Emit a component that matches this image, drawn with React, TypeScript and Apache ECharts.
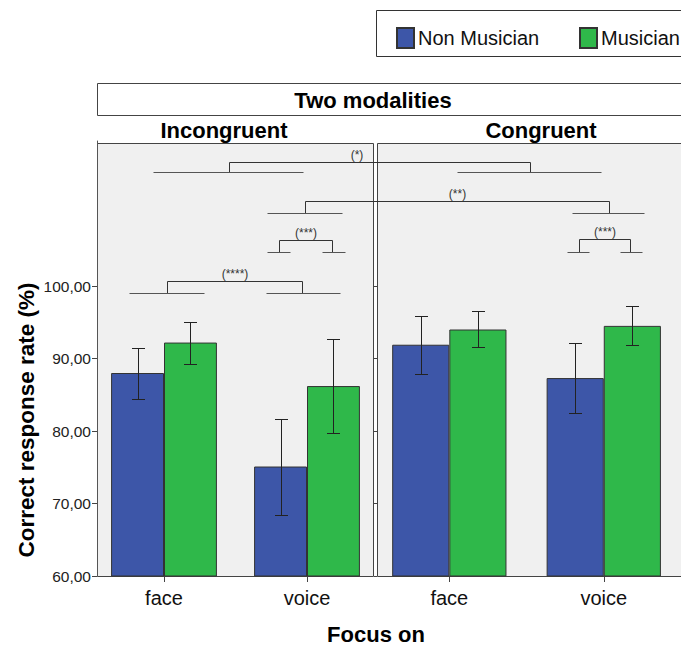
import React, { useEffect, useRef } from "react";
import * as echarts from "echarts";

// ---------- data ----------
const chartTitle = "Two modalities";
const panelTitles = ["Incongruent", "Congruent"];
const focusCategories = ["face", "voice"];
const groupNames = ["Non Musician", "Musician"];
const yTickValues = [60, 70, 80, 90, 100];
const yAxisTitle = "Correct response rate (%)";
const xAxisTitle = "Focus on";

const incongruentNonMusician = [88.0, 75.1];
const incongruentMusician = [92.2, 86.2];
const congruentNonMusician = [91.9, 87.3];
const congruentMusician = [94.0, 94.5];

// error bars [low, high]
const incongruentNonMusicianCI = [[84.4, 91.5], [68.4, 81.7]];
const incongruentMusicianCI = [[89.3, 95.0], [79.7, 92.7]];
const congruentNonMusicianCI = [[87.9, 95.9], [82.5, 92.1]];
const congruentMusicianCI = [[91.6, 96.5], [91.8, 97.2]];

// significance brackets: legs given in category units of a panel axis, levels in data units
const brackets = [
  { label: "(*)", top: 117.06, low: 115.66, labelDx: -23,
    a: { grid: 0, u: 0.457, from: -0.075, to: 0.974 }, b: { grid: 1, u: 0.52, from: 0.048, to: 0.983 } },
  { label: "(**)", top: 111.68, low: 110.07, labelDx: 0,
    a: { grid: 0, u: 0.984, from: 0.723, to: 1.243 }, b: { grid: 1, u: 1.031, from: 0.796, to: 1.259 } },
  { label: "(***)", top: 106.3, low: 104.65, labelDx: 0,
    a: { grid: 0, u: 0.806, from: 0.723, to: 0.881 }, b: { grid: 0, u: 1.177, from: 1.107, to: 1.266 } },
  { label: "(****)", top: 100.65, low: 98.99, labelDx: 0,
    a: { grid: 0, u: 0.023, from: -0.243, to: 0.282 }, b: { grid: 0, u: 0.967, from: 0.711, to: 1.231 } },
  { label: "(***)", top: 106.44, low: 104.73, labelDx: 0,
    a: { grid: 1, u: 0.838, from: 0.759, to: 0.906 }, b: { grid: 1, u: 1.17, from: 1.102, to: 1.247 } },
];

// ---------- style ----------
const FONT = "'Liberation Sans', Arial, sans-serif";
const BLUE = "#3d56a8";
const GREEN = "#2fb84a";
const GAP = 0.26;
const W = 681;
const H = 645;

export default function App() {
  const ref = useRef<HTMLDivElement>(null);

  useEffect(() => {
    if (!ref.current) return;
    const chart = echarts.init(ref.current, null, { renderer: "svg", width: W, height: H });

    const fmt = (v: number) => v.toFixed(2).replace(".", ",");

    const errSeries = (grid: number, ci: number[][], side: number) => ({
      type: "custom",
      xAxisIndex: grid,
      yAxisIndex: grid,
      z: 5,
      silent: true,
      data: ci.map((c, i) => [i, c[0], c[1]]),
      encode: { x: 0, y: [1, 2] },
      renderItem: (params: any, api: any) => {
        const cat = api.value(0);
        const lo = api.coord([cat, api.value(1)]);
        const hi = api.coord([cat, api.value(2)]);
        const band = api.size([1, 0])[0];
        const x = Math.round(lo[0] + side * band * (1 - GAP) / 4) + 0.5;
        const y1 = Math.round(hi[1]) + 0.5;
        const y2 = Math.round(lo[1]) + 0.5;
        const st = { stroke: "#222", lineWidth: 1 };
        return {
          type: "group",
          children: [
            { type: "line", shape: { x1: x, y1, x2: x, y2 }, style: st },
            { type: "line", shape: { x1: x - 6.5, y1, x2: x + 6.5, y2: y1 }, style: st },
            { type: "line", shape: { x1: x - 6.5, y1: y2, x2: x + 6.5, y2 }, style: st },
          ],
        };
      },
    });

    const barSeries = (name: string, grid: number, data: number[], color: string) => ({
      type: "bar",
      name,
      xAxisIndex: grid,
      yAxisIndex: grid,
      data,
      barGap: "0%",
      barCategoryGap: GAP * 100 + "%",
      itemStyle: { color, borderColor: "#333", borderWidth: 1 },
      z: 2,
    });

    const xAxisCommon = {
      type: "category",
      data: focusCategories,
      axisLine: { show: false },
      axisTick: { show: true, alignWithLabel: true, length: 6, inside: false, lineStyle: { color: "#444" } },
      axisLabel: { fontSize: 20, color: "#111", margin: 12, fontFamily: FONT },
    };
    const yAxisCommon = { type: "value", min: 60, max: 120, interval: 10, splitLine: { show: false } };

    const legendCommon = {
      top: 22,
      itemWidth: 17,
      itemHeight: 20,
      icon: "rect",
      selectedMode: false,
      textStyle: { fontSize: 20, color: "#111", fontFamily: FONT, padding: [0, 0, 0, -1] },
    };

    chart.setOption({
      animation: false,
      backgroundColor: "#ffffff",
      textStyle: { fontFamily: FONT },
      legend: [
        { ...legendCommon, data: [groupNames[0]], left: 391 },
        { ...legendCommon, data: [groupNames[1]], left: 574 },
      ],
      grid: [
        { left: 92.5, width: 286, top: 141, height: 435 },
        { left: 372.1, width: 320.8, top: 141, height: 435 },
      ],
      xAxis: [
        { ...xAxisCommon, gridIndex: 0 },
        { ...xAxisCommon, gridIndex: 1 },
      ],
      yAxis: [
        {
          ...yAxisCommon,
          gridIndex: 0,
          offset: -4.5,
          axisLine: { show: true, lineStyle: { color: "#555" } },
          axisTick: { show: true, length: 5, customValues: yTickValues, lineStyle: { color: "#444" } },
          axisLabel: { show: true, customValues: yTickValues, formatter: fmt, fontSize: 15.5, color: "#222", margin: 6 },
        },
        {
          ...yAxisCommon,
          gridIndex: 1,
          offset: -4.9,
          axisLine: { show: false },
          axisTick: { show: true, length: 3, customValues: yTickValues, lineStyle: { color: "#444" } },
          axisLabel: { show: false },
        },
      ],
      series: [
        barSeries(groupNames[0], 0, incongruentNonMusician, BLUE),
        barSeries(groupNames[1], 0, incongruentMusician, GREEN),
        barSeries(groupNames[0], 1, congruentNonMusician, BLUE),
        barSeries(groupNames[1], 1, congruentMusician, GREEN),
        errSeries(0, incongruentNonMusicianCI, -1),
        errSeries(0, incongruentMusicianCI, 1),
        errSeries(1, congruentNonMusicianCI, -1),
        errSeries(1, congruentMusicianCI, 1),
      ],
    });

    // ----- annotations -----
    const cx = (grid: number, u: number) => {
      const c0 = chart.convertToPixel({ xAxisIndex: grid } as any, 0) as number;
      const c1 = chart.convertToPixel({ xAxisIndex: grid } as any, 1) as number;
      return c0 + u * (c1 - c0);
    };
    const py = (v: number) => Math.round(chart.convertToPixel({ yAxisIndex: 0 } as any, v) as number) + 0.5;
    const r = (x: number) => Math.round(x) + 0.5;

    const lineSt = { stroke: "#333", lineWidth: 1 };
    const lowSt = { stroke: "#555", lineWidth: 1 };
    const els: any[] = [];

    // panels
    const y0 = py(60);
    const panelTop = 143.5;
    els.push({ type: "rect", z: -1, shape: { x: 97.5, y: panelTop, width: 276, height: y0 - panelTop }, style: { fill: "#f0f0f0", stroke: "#444", lineWidth: 1 } });
    els.push({ type: "rect", z: -1, shape: { x: 377.5, y: panelTop, width: 340, height: y0 - panelTop }, style: { fill: "#f0f0f0", stroke: "#444", lineWidth: 1 } });
    // header box
    els.push({ type: "rect", z: 1, shape: { x: 97.5, y: 83.5, width: 640, height: 32 }, style: { fill: "#fff", stroke: "#444", lineWidth: 1 } });
    els.push({ type: "text", z: 2, x: 373, y: 100, style: { text: chartTitle, font: `bold 22px ${FONT}`, fill: "#000", align: "center", verticalAlign: "middle" } });
    els.push({ type: "text", z: 2, x: 224, y: 130, style: { text: panelTitles[0], font: `bold 22px ${FONT}`, fill: "#000", align: "center", verticalAlign: "middle" } });
    els.push({ type: "text", z: 2, x: 541, y: 130, style: { text: panelTitles[1], font: `bold 22px ${FONT}`, fill: "#000", align: "center", verticalAlign: "middle" } });
    // legend box
    els.push({ type: "rect", z: -1, shape: { x: 376.5, y: 10.5, width: 340, height: 46 }, style: { fill: "#fff", stroke: "#333", lineWidth: 1 } });
    // axis titles
    els.push({ type: "text", z: 2, x: 376, y: 634, style: { text: xAxisTitle, font: `bold 22px ${FONT}`, fill: "#000", align: "center", verticalAlign: "middle" } });
    els.push({ type: "text", z: 2, x: 26, y: 420, rotation: Math.PI / 2, style: { text: yAxisTitle, font: `bold 22.5px ${FONT}`, fill: "#000", align: "center", verticalAlign: "middle" } });

    brackets.forEach((b) => {
      const yt = py(b.top);
      const yl = py(b.low);
      const xa = r(cx(b.a.grid, b.a.u));
      const xb = r(cx(b.b.grid, b.b.u));
      els.push({ type: "line", z: 10, shape: { x1: xa, y1: yt, x2: xb, y2: yt }, style: lineSt });
      els.push({ type: "line", z: 10, shape: { x1: xa, y1: yt, x2: xa, y2: yl }, style: lineSt });
      els.push({ type: "line", z: 10, shape: { x1: xb, y1: yt, x2: xb, y2: yl }, style: lineSt });
      [b.a, b.b].forEach((leg) => {
        els.push({ type: "line", z: 10, shape: { x1: r(cx(leg.grid, leg.from)), y1: yl, x2: r(cx(leg.grid, leg.to)), y2: yl }, style: lowSt });
      });
      els.push({
        type: "text", z: 10, x: (xa + xb) / 2 + b.labelDx, y: yt - 8,
        style: { text: b.label, font: `12px ${FONT}`, fill: "#333", align: "center", verticalAlign: "middle" },
      });
    });

    chart.setOption({ graphic: { elements: els } });

    return () => chart.dispose();
  }, []);

  return <div ref={ref} style={{ position: "fixed", left: 0, top: 0, width: W, height: H, background: "#fff" }} />;
}
